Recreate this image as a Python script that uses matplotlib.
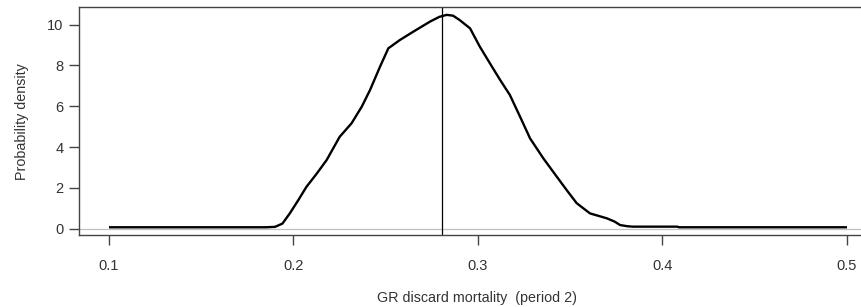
import matplotlib
matplotlib.use("Agg")
import matplotlib.pyplot as plt

# Data
mortality = [0.100, 0.150, 0.185, 0.190, 0.194, 0.198, 0.2026, 0.207, 0.2126, 0.218, 0.225, 0.2315,
             0.237, 0.2415, 0.2469, 0.2514, 0.2577, 0.265, 0.274, 0.279, 0.2830, 0.2865, 0.290,
             0.2957, 0.301, 0.3065, 0.312, 0.3173, 0.3228, 0.3282, 0.3354, 0.3427,
             0.348, 0.3535, 0.3607, 0.3698, 0.374, 0.377, 0.381, 0.384, 0.395, 0.408, 0.409, 0.450, 0.500]
density = [0.07, 0.07, 0.07, 0.09, 0.25, 0.75, 1.40, 2.05, 2.70, 3.37, 4.50, 5.17,
           5.98, 6.80, 7.94, 8.84, 9.25, 9.66, 10.15, 10.38, 10.48, 10.44, 10.23,
           9.82, 8.92, 8.10, 7.29, 6.55, 5.49, 4.43, 3.45, 2.55,
           1.90, 1.25, 0.75, 0.51, 0.35, 0.18, 0.12, 0.10, 0.10, 0.10, 0.07, 0.07, 0.07]
vline_x = 0.2806
xticks = [0.1, 0.2, 0.3, 0.4, 0.5]
xticklabels = ["0.1", "0.2", "0.3", "0.4", "0.5"]
yticks = [0, 2, 4, 6, 8, 10]
yticklabels = ["0", "2", "4", "6", "8", "10"]

plt.rcParams['font.family'] = ['Liberation Sans', 'DejaVu Sans']

W, H = 862, 307
fig = plt.figure(figsize=(W / 100, H / 100), dpi=100)
left, right, top, bottom = 79, 876.5, 6.7, 235.3
ax = fig.add_axes([left / W, (H - bottom) / H, (right - left) / W, (bottom - top) / H])
ax.set_xlim(0.08374, 0.516)
ax.set_ylim(-0.3235, 10.88)

ax.axhline(0, color="#c0c0c0", lw=0.9, zorder=1)
ax.axvline(vline_x, color="black", lw=0.9, zorder=2)
ax.plot(mortality, density, color="black", lw=1.7, zorder=3,
        solid_joinstyle="round", solid_capstyle="butt")

for s in ["left", "bottom", "top", "right"]:
    ax.spines[s].set_color("#444444")
    ax.spines[s].set_linewidth(1.0)

ax.set_xticks(xticks)
ax.set_xticklabels(xticklabels)
ax.set_yticks(yticks)
ax.set_yticklabels(yticklabels)
ax.tick_params(axis="x", length=7, width=1, color="#444444", labelsize=10.5,
               labelcolor="#333333", pad=10)
ax.tick_params(axis="y", length=7, width=1, color="#444444", labelsize=10.5,
               labelcolor="#333333", pad=4)

fig.text(477 / W, 1 - 298 / H, "GR discard mortality  (period 2)", ha="center",
         va="center", fontsize=10.3, color="#333333")
fig.text(21.7 / W, 1 - 121.7 / H, "Probability density", ha="center", va="center",
         rotation=90, fontsize=10.3, color="#333333")

fig.savefig("out.png", dpi=100)
